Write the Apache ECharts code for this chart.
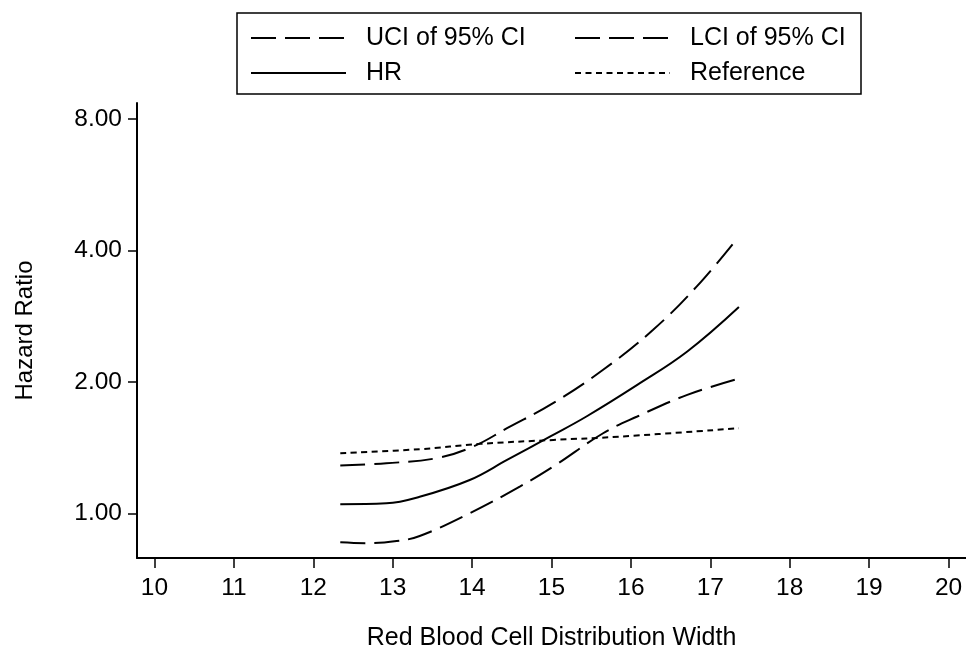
<!DOCTYPE html>
<html>
<head>
<meta charset="utf-8">
<script src="https://cdn.jsdelivr.net/npm/echarts@6/dist/echarts.min.js"></script>
<style>html,body{margin:0;padding:0;background:#fff;}#c{width:966px;height:652px;}</style>
</head>
<body>
<div id="c"></div>
<script>
// x values (RDW) and hazard ratios
const hrX   = [12.34, 12.92, 13.34, 13.97, 14.44, 14.98, 15.44, 16.08, 16.71, 17.36];
const hrY   = [1.049, 1.054, 1.091, 1.192, 1.325, 1.498, 1.666, 1.968, 2.347, 2.967];
const uciX  = [12.34, 12.92, 13.55, 14.01, 14.44, 15.02, 15.65, 16.28, 16.83, 17.32];
const uciY  = [1.286, 1.302, 1.337, 1.421, 1.566, 1.787, 2.131, 2.632, 3.308, 4.217];
const lciX  = [12.34, 12.67, 13.05, 13.34, 13.97, 14.60, 15.02, 15.65, 16.08, 16.71, 17.34];
const lciY  = [0.858, 0.854, 0.864, 0.887, 1.000, 1.151, 1.279, 1.525, 1.666, 1.867, 2.030];
const refX  = [12.34, 13.34, 14.10, 15.02, 15.86, 17.36];
const refY  = [1.373, 1.402, 1.442, 1.472, 1.498, 1.566];
const xTicks = [10, 11, 12, 13, 14, 15, 16, 17, 18, 19, 20];
const yTicks = [1, 2, 4, 8];

const pairs = (xs, ys) => xs.map((x, i) => [x, ys[i]]);
const FONT = 'Liberation Sans, Arial, sans-serif';
const BLK = '#000';

const chart = echarts.init(document.getElementById('c'), null, {renderer: 'canvas'});
const longDash = [25, 9];
const shortDash = [6, 4.5];
function lineSeries(name, data, type) {
  return {
    name, type: 'line', data, smooth: 0.4, symbol: 'none', clip: false,
    lineStyle: {color: BLK, width: 2, type},
    itemStyle: {color: BLK},
    emphasis: {disabled: true}
  };
}
const legendCommon = {
  orient: 'vertical', itemWidth: 95, itemHeight: 14, itemGap: 7,
  itemStyle: {opacity: 0},
  textStyle: {fontFamily: FONT, fontSize: 25, color: BLK, lineHeight: 28, padding: [0, 0, 0, 15]},
  selectedMode: false
};
chart.setOption({
  animation: false,
  backgroundColor: '#fff',
  graphic: [{
    type: 'rect', shape: {x: 237, y: 13, width: 624, height: 81},
    style: {fill: 'none', stroke: BLK, lineWidth: 1.5}, z: 10
  }],
  legend: [
    Object.assign({}, legendCommon, {left: 245, top: 19, data: ['UCI of 95% CI', 'HR']}),
    Object.assign({}, legendCommon, {left: 569, top: 19, data: ['LCI of 95% CI', 'Reference']})
  ],
  grid: {left: 137, right: 0, top: 103, bottom: 94, containLabel: false, outerBoundsMode: 'none'},
  xAxis: {
    type: 'value', min: 9.78, max: 20.22,
    name: 'Red Blood Cell Distribution Width', nameLocation: 'middle', nameGap: 68,
    nameTextStyle: {fontFamily: FONT, fontSize: 25, color: BLK},
    axisLine: {lineStyle: {color: BLK, width: 2}},
    axisTick: {show: true, length: 10, lineStyle: {color: BLK, width: 1.5}, customValues: xTicks},
    axisLabel: {fontFamily: FONT, fontSize: 24.5, color: BLK, margin: 18, customValues: xTicks},
    splitLine: {show: false}
  },
  yAxis: {
    type: 'log', logBase: 2, min: 0.79, max: 8.7,
    name: 'Hazard Ratio', nameLocation: 'middle', nameGap: 100,
    nameTextStyle: {fontFamily: FONT, fontSize: 24, color: BLK},
    axisLine: {show: true, lineStyle: {color: BLK, width: 2}},
    axisTick: {show: true, length: 9, lineStyle: {color: BLK, width: 1.5}, customValues: yTicks},
    axisLabel: {fontFamily: FONT, fontSize: 24.5, color: BLK, margin: 15, customValues: yTicks,
      formatter: v => Number(v).toFixed(2)},
    splitLine: {show: false}
  },
  series: [
    lineSeries('UCI of 95% CI', pairs(uciX, uciY), longDash),
    lineSeries('LCI of 95% CI', pairs(lciX, lciY), longDash),
    lineSeries('HR', pairs(hrX, hrY), 'solid'),
    lineSeries('Reference', pairs(refX, refY), shortDash)
  ]
});
</script>
</body>
</html>
